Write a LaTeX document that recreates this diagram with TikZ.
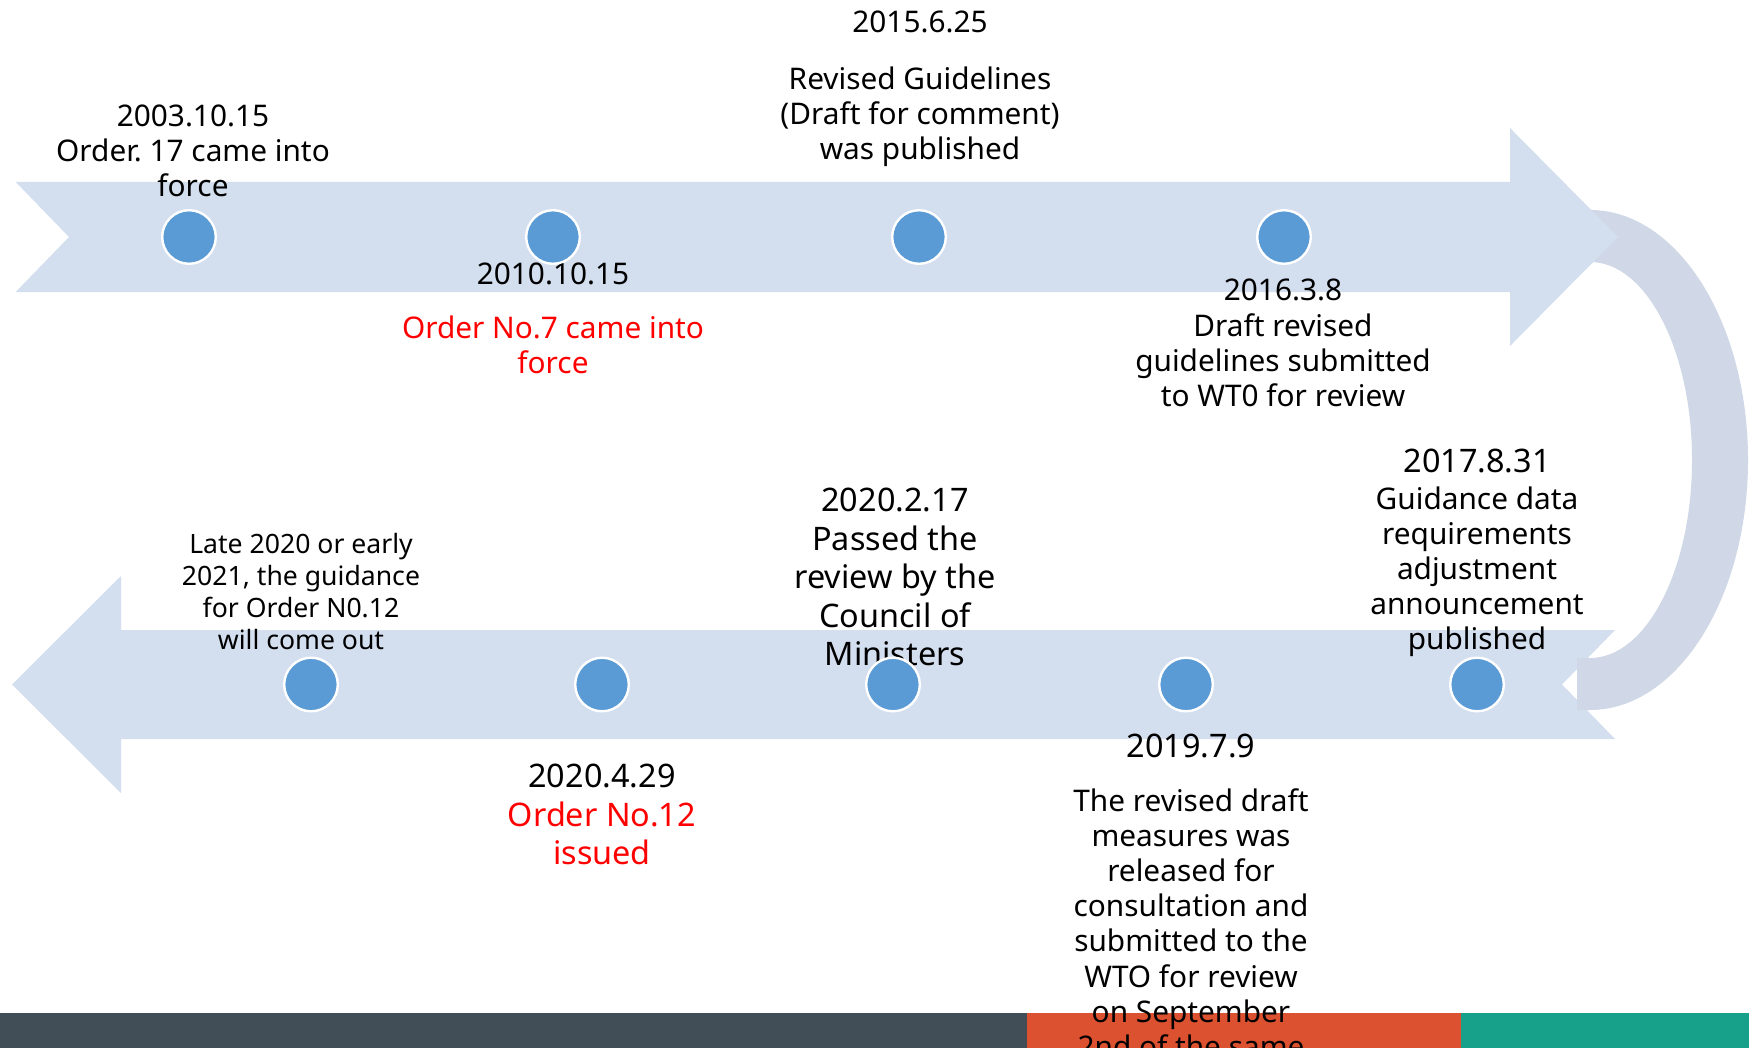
\documentclass[tikz,border=0pt]{standalone}
\usepackage{fontspec}
\setmainfont{Noto Sans}
\frenchspacing
\definecolor{band}{HTML}{D3DEEF}
\definecolor{arcc}{HTML}{D0D8E7}
\definecolor{dotc}{HTML}{5B9BD5}
\definecolor{barA}{HTML}{414E58}
\definecolor{barB}{HTML}{DC5130}
\definecolor{barC}{HTML}{17A08A}
\definecolor{redt}{HTML}{FF0000}
\newcommand\firstln{\rule{0pt}{0.8em}}
\begin{document}
\begin{tikzpicture}[x=0.5pt,y=-0.5pt,
  dot/.style={circle,fill=dotc,draw=white,line width=1.2pt,minimum size=26.8pt,inner sep=0pt},
  reg/.style={font=\fontsize{14.9}{17.5}\selectfont,align=center,inner sep=0pt},
  big/.style={font=\fontsize{16.2}{19.25}\selectfont,align=center,inner sep=0pt},
  small/.style={font=\fontsize{13.3}{16}\selectfont,align=center,inner sep=0pt}]
\clip (0,0) rectangle (1749,1048);
\fill[white] (0,0) rectangle (1749,1048);
% bottom bar
\fill[barA] (0,1013) rectangle (1027,1048);
\fill[barB] (1027,1013) rectangle (1461,1048);
\fill[barC] (1461,1013) rectangle (1749,1048);
% bottom band (arrow pointing left)
\fill[band] (1615,630) -- (121,630) -- (121,576) -- (12,684.5) -- (121,793) -- (121,739) -- (1615,739) -- (1562,684.5) -- cycle;
% curved connector band
\fill[arcc] (1577,210) -- (1590,210) arc[start angle=-90,end angle=90,x radius=158,y radius=250]
  -- (1577,710) -- (1577,658) -- (1590,658) arc[start angle=90,end angle=-90,x radius=102,y radius=198]
  -- (1577,262) -- cycle;
% top band (arrow pointing right)
\fill[band] (15.7,182) -- (1510,182) -- (1510,128) -- (1618,237) -- (1510,346) -- (1510,292) -- (15.7,292) -- (69,237) -- cycle;
% top texts
\node[reg,anchor=north] (t1) at (193,101.8) {\firstln 2003.10.15\\Order. 17 came into\\force};
\node[reg,anchor=base] (t2d) at (553,285) {2010.10.15};
\node[reg,anchor=north,text=redt] (t2) at (553,313.8) {\firstln Order No.7 came into\\force};
\node[reg,anchor=base] (t3d) at (920,33) {2015.6.25};
\node[reg,anchor=north] (t3) at (920,64.8) {\firstln Revised Guidelines\\(Draft for comment)\\was published};
\node[reg,anchor=base] (t4d) at (1283,300) {2016.3.8};
\node[reg,anchor=north] (t4) at (1283,311.8) {\firstln Draft revised\\guidelines submitted\\to WT0 for review};
% bottom texts
\node[small,anchor=north] (b1) at (301,532) {\firstln Late 2020 or early\\2021, the guidance\\for Order N0.12\\will come out};
\node[big,anchor=north] (b2) at (602,761.4) {\firstln 2020.4.29\\\textcolor{redt}{Order No.12}\\\textcolor{redt}{issued}};
\node[big,anchor=north] (b3) at (895,485.4) {\firstln 2020.2.17\\Passed the\\review by the\\Council of\\Ministers};
\node[big,anchor=base] (b4d) at (1191,757) {2019.7.9};
\node[reg,anchor=north,font=\fontsize{14.9}{17.6}\selectfont] (b4) at (1191,786.8) {\firstln The revised draft\\measures was\\released for\\consultation and\\submitted to the\\WTO for review\\on September\\2nd of the same};
\node[big,anchor=base] (b5d) at (1477,472) {2017.8.31};
\node[reg,anchor=north] (b5) at (1477,484.8) {\firstln Guidance data\\requirements\\adjustment\\announcement\\published};
% dots
\node[dot] (c1) at (189,237) {};
\node[dot] (c2) at (553,237) {};
\node[dot] (c3) at (919,237) {};
\node[dot] (c4) at (1284,237) {};
\node[dot] (d1) at (311,684.5) {};
\node[dot] (d2) at (602,684.5) {};
\node[dot] (d3) at (893,684.5) {};
\node[dot] (d4) at (1186,684.5) {};
\node[dot] (d5) at (1477,684.5) {};
\end{tikzpicture}
\end{document}
